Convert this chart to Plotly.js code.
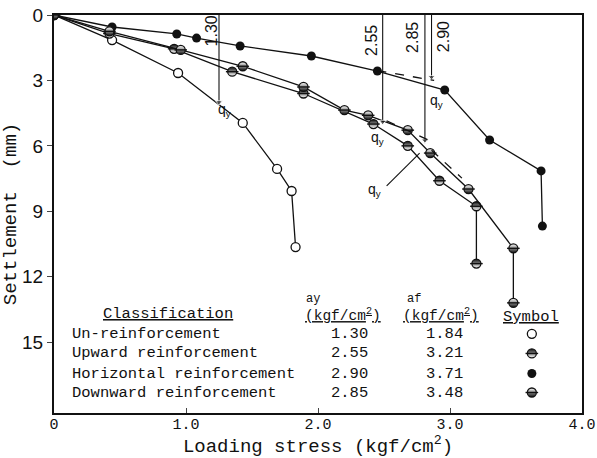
<!DOCTYPE html>
<html><head><meta charset="utf-8">
<script src="https://cdn.plot.ly/plotly-3.0.1.min.js"></script>
<style>body{margin:0;background:#fff}</style>
</head><body><div id="chart" style="width:597px;height:458px"></div>
<script>
// ---- data ----
const unX = [0, 0.44, 0.94, 1.43, 1.69, 1.80, 1.83];
const unY = [0, 1.15, 2.66, 4.95, 7.06, 8.07, 10.64];
const horX = [0, 0.44, 0.93, 1.08, 1.41, 1.95, 2.45, 2.96, 3.30, 3.69, 3.70];
const horY = [0, 0.55, 0.87, 1.06, 1.42, 1.88, 2.57, 3.44, 5.73, 7.15, 9.68];
const upX = [0, 0.42, 0.91, 1.35, 1.89, 2.42, 2.68, 2.92, 3.20, 3.20];
const upY = [0, 0.85, 1.55, 2.60, 3.60, 5.00, 6.00, 7.60, 8.77, 11.4];
const downX = [0, 0.42, 0.96, 1.43, 1.89, 2.20, 2.38, 2.68, 2.85, 3.14, 3.48, 3.48];
const downY = [0, 0.75, 1.60, 2.35, 3.30, 4.36, 4.60, 5.28, 6.33, 7.98, 10.7, 13.2];

// qy construction (vertical arrows and tangent dashes)
const qyLabels = ["1.30", "2.55", "2.85", "2.90"];
const qyLineX = [1.25, 2.49, 2.81, 2.86];
const qyLineEnd = [4.0, 4.9, 5.75, 2.85];
const dashHorX = [2.45, 2.88];
const dashHorY = [2.55, 3.0];
const dashUpX = [2.52, 2.83];
const dashUpY = [4.85, 5.72];
const dashDownX = [2.86, 3.09];
const dashDownY = [6.2, 7.48];
const leaderX = [2.52, 2.77];
const leaderY = [7.84, 6.33];

// table
const classNames = ["Un-reinforcement", "Upward reinforcement", "Horizontal reinforcement", "Downward reinforcement"];
const qyVals = ["1.30", "2.55", "2.90", "2.85"];
const qfVals = ["1.84", "3.21", "3.71", "3.48"];
const tableRowY = [14.62, 15.52, 16.44, 17.31];
const tableSymX = [3.62, 3.62, 3.62, 3.62];

const xTicks = [0, 1, 2, 3, 4];
const xTickText = ["0", "1.0", "2.0", "3.0", "4.0"];
const yTicks = [0, 3, 6, 9, 12, 15];

// ---- build ----
const mono = "Liberation Mono, DejaVu Sans Mono, monospace";
const sans = "Liberation Sans Narrow, Liberation Sans, Arial, sans-serif";
const ink = "#111";
const lineStyle = {color: ink, width: 1.3};
const openM = {symbol: "circle", size: 9, color: "#fff", line: {color: ink, width: 1.3}};
const fullM = {symbol: "circle", size: 9, color: ink};
const upM = {symbol: "circle", size: 9, color: ink, gradient: {type: "vertical", color: "#fff"}, line: {color: ink, width: 1.3}};
const downM = {symbol: "circle", size: 9, color: "#fff", gradient: {type: "vertical", color: ink}, line: {color: ink, width: 1.3}};
const barM = {symbol: "line-ew", size: 9, line: {color: ink, width: 1.4}};
const traces = [];

function series(x, y, m, bar, withLine) {
  traces.push({x: x, y: y, mode: withLine ? "lines+markers" : "markers", line: lineStyle, marker: m});
  if (bar) traces.push({x: x, y: y, mode: "markers", marker: barM});
}
series(unX, unY, openM, false, true);
series(horX, horY, fullM, false, true);
series(upX, upY, upM, true, true);
series(downX, downY, downM, true, true);

// table symbols
series([tableSymX[0]], [tableRowY[0]], openM, false, false);
series([tableSymX[1]], [tableRowY[1]], upM, true, false);
series([tableSymX[2]], [tableRowY[2]], fullM, false, false);
series([tableSymX[3]], [tableRowY[3]], downM, true, false);

// vertical qy lines with arrow tips
qyLineX.forEach((xv, i) => {
  traces.push({x: [xv, xv], y: [0, qyLineEnd[i]], mode: "lines+markers",
    line: {color: ink, width: 1.1},
    marker: {symbol: "triangle-down", size: [0, 6], color: ink}});
});
[[dashHorX, dashHorY], [dashUpX, dashUpY], [dashDownX, dashDownY]].forEach(d => {
  traces.push({x: d[0], y: d[1], mode: "lines", line: {color: ink, width: 1.3, dash: "dash"}});
});
traces.push({x: leaderX, y: leaderY, mode: "lines", line: {color: ink, width: 1.1}});

const ann = [];
const qyLabelPos = [[1.19, 0.75], [2.40, 1.15], [2.72, 1.05], [2.95, 1.0]];
qyLabels.forEach((t, i) => ann.push({x: qyLabelPos[i][0], y: qyLabelPos[i][1], text: t, textangle: -90,
  showarrow: false, font: {family: "Liberation Sans, Arial, sans-serif", size: 16, color: ink}}));
[[1.29, 4.36], [2.90, 3.95], [2.45, 5.64], [2.43, 8.03]].forEach(p => ann.push({x: p[0], y: p[1],
  text: "q<sub>y</sub>", showarrow: false, font: {family: "Liberation Sans, Arial", size: 14, color: ink}}));

ann.push({x: 0.864, y: 13.72, text: "<u>Classification</u>", showarrow: false,
  font: {family: mono, size: 15.5, color: ink}});
classNames.forEach((t, i) => {
  ann.push({x: 0.12, y: tableRowY[i], text: t, xanchor: "left", showarrow: false, font: {family: mono, size: 15.5, color: ink}});
  ann.push({x: 2.24, y: tableRowY[i], text: qyVals[i], showarrow: false, font: {family: mono, size: 15.5, color: ink}});
  ann.push({x: 2.96, y: tableRowY[i], text: qfVals[i], showarrow: false, font: {family: mono, size: 15.5, color: ink}});
});
ann.push({x: 1.96, y: 13.0, text: "ay", showarrow: false, font: {family: mono, size: 12, color: ink}});
ann.push({x: 2.73, y: 13.0, text: "af", showarrow: false, font: {family: mono, size: 12, color: ink}});
ann.push({x: 2.19, y: 13.75, text: "<u>(kgf/cm<sup>2</sup>)</u>", showarrow: false, font: {family: mono, size: 14.5, color: ink}});
ann.push({x: 2.93, y: 13.75, text: "<u>(kgf/cm<sup>2</sup>)</u>", showarrow: false, font: {family: mono, size: 14.5, color: ink}});
ann.push({x: 3.61, y: 13.85, text: "<u>Symbol</u>", showarrow: false, font: {family: mono, size: 15.5, color: ink}});

const layout = {
  width: 597, height: 458,
  margin: {l: 54, r: 15, t: 15, b: 45},
  paper_bgcolor: "#fff", plot_bgcolor: "#fff",
  showlegend: false,
  xaxis: {range: [0, 4], tickvals: xTicks, ticktext: xTickText, ticks: "inside", ticklen: 5,
    showline: true, linewidth: 2, linecolor: ink, mirror: true, showgrid: false, zeroline: false,
    tickfont: {family: mono, size: 15, color: ink}, ticklabelstandoff: -4,
    title: {text: "Loading stress (kgf/cm<sup>2</sup>)", font: {family: mono, size: 19, color: ink}, standoff: 2}},
  yaxis: {range: [18.25, 0], tickvals: yTicks, ticks: "outside", ticklen: 5,
    showline: true, linewidth: 2, linecolor: ink, mirror: true, showgrid: false, zeroline: false,
    tickfont: {family: sans, size: 19, color: ink},
    title: {text: "Settlement  (mm)", font: {family: mono, size: 19, color: ink}, standoff: 6}},
  annotations: ann
};
Plotly.newPlot("chart", traces, layout, {staticPlot: true});
</script></body></html>
